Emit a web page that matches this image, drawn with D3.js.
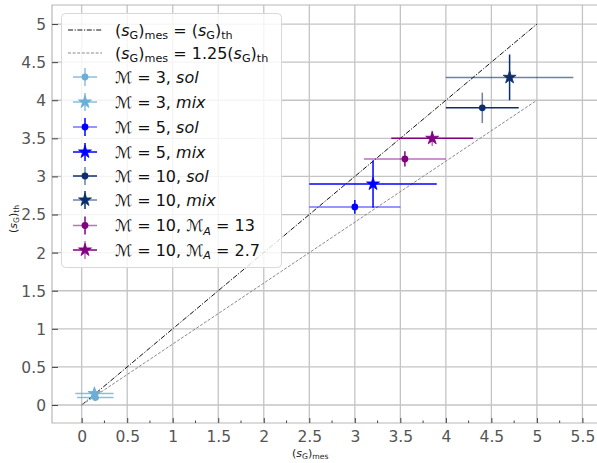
<!DOCTYPE html>
<html><head><meta charset="utf-8">
<script src="https://cdn.jsdelivr.net/npm/d3@7"></script>
<style>body{margin:0;background:#fff}svg{display:block}text{font-family:"DejaVu Sans",sans-serif}</style>
</head><body><svg id="c" width="597" height="463"></svg>
<script>
// ---- data ----
const xTicks = [0,0.5,1,1.5,2,2.5,3,3.5,4,4.5,5,5.5];
const yTicks = [0,0.5,1,1.5,2,2.5,3,3.5,4,4.5,5];
const seriesNames = ["M3sol","M3mix","M5sol","M5mix","M10sol","M10mix","MA13","MA27"];
const xVals = [0.15, 0.14, 3.00, 3.20, 4.40, 4.70, 3.55, 3.85];
const yVals = [0.10, 0.15, 2.60, 2.90, 3.90, 4.30, 3.23, 3.50];
const xErrs = [0.20, 0.21, 0.50, 0.70, 0.40, 0.70, 0.45, 0.45];
const yErrs = [0.05, 0.06, 0.09, 0.31, 0.20, 0.30, 0.10, 0.10];
const refLineX = [0, 5];
const refSlopes = [1, 1/1.25];

// ---- styles ----
const colors = ["#6baed6","#6baed6","#0000ff","#0000ff","#0b2f6b","#0b2f6b","#800080","#800080"];
const markers = ["circle","star","circle","star","circle","star","circle","star"];
const xOp = [0.8,0.8,0.55,1,1,0.6,0.55,1];
const yOp = [0.8,0.8,1,1,0.6,1,1,0.55];

const svg = d3.select("#c");
const L=52, T=5, R=597, B=423;
const x = d3.scaleLinear().domain([-0.326, 5.66]).range([L, R]);
const y = d3.scaleLinear().domain([-0.236, 5.25]).range([B, T]);

// grid
const g = svg.append("g");
g.selectAll(".gx").data(xTicks).enter().append("line")
 .attr("x1",d=>x(d)).attr("x2",d=>x(d)).attr("y1",T).attr("y2",B)
 .attr("stroke","#c4c4c4").attr("stroke-width",1.3);
g.selectAll(".gy").data(yTicks).enter().append("line")
 .attr("y1",d=>y(d)).attr("y2",d=>y(d)).attr("x1",L).attr("x2",R)
 .attr("stroke","#c4c4c4").attr("stroke-width",1.3);

// spines
svg.append("path").attr("d",`M${R+2},${T}H${L}V${B}H${R+2}`).attr("fill","none")
 .attr("stroke","#b8b8b8").attr("stroke-width",1.2);

// axes (ticks inward)
const xAxis = d3.axisBottom(x).tickValues(xTicks).tickSize(-5).tickPadding(8).tickFormat(d3.format("~g"));
const gx = svg.append("g").attr("transform",`translate(0,${B})`).call(xAxis);
const yAxis = d3.axisLeft(y).tickValues(yTicks).tickSize(-6).tickPadding(6).tickFormat(d3.format("~g"));
const gy = svg.append("g").attr("transform",`translate(${L},0)`).call(yAxis);
[gx,gy].forEach(a=>{a.select(".domain").remove();
 a.selectAll(".tick line").attr("stroke","#444").attr("stroke-width",1);
 a.selectAll(".tick text").attr("fill","#555").style("font-size","15.5px").style("font-family","DejaVu Sans");});
gy.selectAll(".tick text").attr("dy","0.35em");
// minor x ticks
const minor = xTicks.slice(0,-1).map(d=>d+0.25);
svg.append("g").selectAll("line").data(minor).enter().append("line")
 .attr("x1",d=>x(d)).attr("x2",d=>x(d)).attr("y1",B).attr("y2",B-2.5)
 .attr("stroke","#444").attr("stroke-width",1);

// reference lines
const refStyles = [{c:"#111",da:"5,1.6,1.2,1.6",w:1},{c:"#888",da:"3,1.6",w:1}];
refSlopes.forEach((s,i)=>{
 svg.append("line").attr("x1",x(refLineX[0])).attr("y1",y(refLineX[0]*s))
  .attr("x2",x(refLineX[1])).attr("y2",y(refLineX[1]*s))
  .attr("stroke",refStyles[i].c).attr("stroke-width",refStyles[i].w).attr("stroke-dasharray",refStyles[i].da);
});

const starPath = d3.symbol().type(d3.symbolStar).size(52);
const circPath = d3.symbol().type(d3.symbolCircle).size(36);
function drawMarker(sel, cx, cy, type, color){
 sel.append("path").attr("d",(type==="star"?starPath:circPath)())
  .attr("transform",`translate(${cx},${cy})`).attr("fill",color)
  .attr("stroke",color).attr("stroke-width",type==="star"?0.8:0).attr("stroke-linejoin","round");
}

// error bars + markers
const pts = svg.append("g");
seriesNames.forEach((n,i)=>{
 const cx=x(xVals[i]), cy=y(yVals[i]);
 pts.append("line").attr("x1",x(xVals[i]-xErrs[i])).attr("x2",x(xVals[i]+xErrs[i]))
  .attr("y1",cy).attr("y2",cy).attr("stroke",colors[i]).attr("stroke-width",1.5).attr("stroke-opacity",xOp[i]);
 pts.append("line").attr("x1",cx).attr("x2",cx)
  .attr("y1",y(yVals[i]-yErrs[i])).attr("y2",y(yVals[i]+yErrs[i]))
  .attr("stroke",colors[i]).attr("stroke-width",1.5).attr("stroke-opacity",yOp[i]);
 drawMarker(pts,cx,cy,markers[i],colors[i]);
});

// rich text helper: parts [text, kind]
function rich(sel, parts, fs){
 const t = sel.append("text").style("font-size",fs+"px").attr("fill","#111");
 parts.forEach(([s,k])=>{
  const ts = t.append("tspan").text(s);
  if(k==="i") ts.style("font-style","italic");
  if(k==="sub"||k==="subi"){ts.style("font-size",(fs*0.7)+"px").attr("dy",fs*0.22);
    if(k==="subi") ts.style("font-style","italic");}
  if(k==="up"){ts.attr("dy",-fs*0.22);}
 });
 return t;
}
const M="ℳ";
const labels = [
 [["(",""],["s","i"],["G","sub"],[")","up"],["mes","sub"],[" = (","up"],["s","i"],["G","sub"],[")","up"],["th","sub"]],
 [["(",""],["s","i"],["G","sub"],[")","up"],["mes","sub"],[" = 1.25(","up"],["s","i"],["G","sub"],[")","up"],["th","sub"]],
 [[M+" = 3, ",""],["sol","i"]],
 [[M+" = 3, ",""],["mix","i"]],
 [[M+" = 5, ",""],["sol","i"]],
 [[M+" = 5, ",""],["mix","i"]],
 [[M+" = 10, ",""],["sol","i"]],
 [[M+" = 10, ",""],["mix","i"]],
 [[M+" = 10, "+M,""],["A","subi"],[" = 13","up"]],
 [[M+" = 10, "+M,""],["A","subi"],[" = 2.7","up"]],
];

// legend
const lg = svg.append("g");
lg.append("rect").attr("x",61.5).attr("y",13.5).attr("width",220).attr("height",254).attr("rx",4)
 .attr("fill","#fff").attr("fill-opacity",0.82).attr("stroke","#d8d8d8").attr("stroke-width",1);
const rowY = [30,53,77,102,127,152,176,200,225.5,250];
const hx0=68, hx1=102, hxm=85, tx=115;
labels.forEach((p,j)=>{
 const yy=rowY[j];
 if(j<2){
  lg.append("line").attr("x1",hx0).attr("x2",hx1).attr("y1",yy).attr("y2",yy)
   .attr("stroke",refStyles[j].c).attr("stroke-width",refStyles[j].w).attr("stroke-dasharray",refStyles[j].da);
 } else {
  const i=j-2;
  lg.append("line").attr("x1",hxm-12).attr("x2",hxm+12).attr("y1",yy).attr("y2",yy)
   .attr("stroke",colors[i]).attr("stroke-width",1.5).attr("stroke-opacity",xOp[i]);
  lg.append("line").attr("x1",hxm).attr("x2",hxm).attr("y1",yy-9).attr("y2",yy+9)
   .attr("stroke",colors[i]).attr("stroke-width",1.5).attr("stroke-opacity",yOp[i]);
  drawMarker(lg,hxm,yy,markers[i],colors[i]);
 }
 rich(lg,p,16).attr("x",tx).attr("y",yy+5.5);
});

// axis labels
rich(svg,[["(",""],["s","i"],["G","sub"],[")","up"],["mes","sub"]],11).attr("x",292).attr("y",457).attr("fill","#222");
rich(svg,[["(",""],["s","i"],["G","sub"],[")","up"],["th","sub"]],11)
 .attr("transform","translate(17,233) rotate(-90)").attr("fill","#222");
</script></body></html>
